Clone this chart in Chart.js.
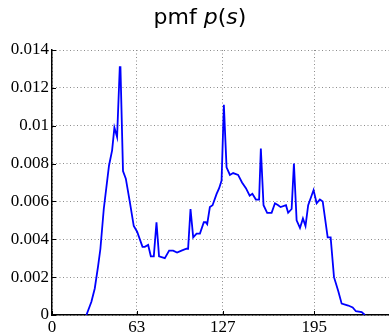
<!DOCTYPE html>
<html>
<head>
<meta charset="utf-8">
<script src="https://cdn.jsdelivr.net/npm/chart.js@4/dist/chart.umd.min.js"></script>
<style>
  body { margin: 0; background: #fff; }
  #wrap { position: relative; width: 389px; height: 335px; }
  #title {
    position: absolute; left: 0; top: 4px; width: 400px; text-align: center;
    font-family: 'DejaVu Sans', sans-serif; font-size: 22px; color: #000;
  }
  #title i { font-style: italic; }
</style>
</head>
<body>
<div id="wrap">
  <div id="title">pmf <i>p</i>(<i>s</i>)</div>
  <canvas id="pmfChart"></canvas>
</div>
<script>
// values (grey level s, probability p(s))
const sValues = [
  25.6, 29.3, 31.8, 34.3, 36, 38.5, 42.4, 44.7, 46.4, 48.4,
  50.4, 50.9, 52.8, 54.9, 57.8, 60.8, 63.3, 67.3, 69, 71.5,
  73.5, 75.7, 77.7, 79.6, 83.9, 87.1, 90.1, 93, 96.3, 100,
  101.2, 103, 105, 107.5, 110, 112.9, 114.4, 115.4, 117.4, 119.4,
  122.4, 124.3, 126.1, 127.8, 129.8, 132.3, 134.7, 138.4, 141.3, 144.2,
  147, 149, 151.6, 154, 155.3, 157.3, 160, 163.3, 165.8, 168.2,
  170, 174, 175.6, 178.2, 179.9, 181.9, 184.4, 186.6, 188.5, 190.5,
  194.5, 196.8, 199.2, 201.3, 205, 207.2, 209.7, 212.9, 215.4, 220.3,
  223.6, 226, 230.3, 232.7
];
const pValues = [
  0, 0.0007, 0.0014, 0.0026, 0.0035, 0.0056, 0.0079, 0.0087, 0.0099, 0.0094,
  0.0131, 0.0131, 0.0076, 0.0072, 0.0060, 0.0047, 0.0044, 0.0036, 0.0036, 0.0037,
  0.0031, 0.0031, 0.0049, 0.0031, 0.0030, 0.0034, 0.0034, 0.0033, 0.0034, 0.0035,
  0.0035, 0.0056, 0.0041, 0.0043, 0.0043, 0.0049, 0.0049, 0.0048, 0.0057, 0.0058,
  0.0064, 0.0067, 0.0071, 0.0111, 0.0078, 0.0074, 0.0075, 0.0074, 0.0070, 0.0067,
  0.0063, 0.0064, 0.0061, 0.0061, 0.0088, 0.0058, 0.0054, 0.0054, 0.0059, 0.0058,
  0.0057, 0.0058, 0.0054, 0.0056, 0.0080, 0.0050, 0.0046, 0.0051, 0.0047, 0.0058,
  0.0066, 0.0059, 0.0061, 0.0060, 0.0041, 0.0041, 0.0020, 0.00125, 0.0006, 0.0005,
  0.0004, 0.0002, 0.00015, 0
];
const xTicks = [0, 63, 127, 195];
const yTicks = [0, 0.002, 0.004, 0.006, 0.008, 0.01, 0.012, 0.014];

const tickFont = { family: 'Liberation Serif', size: 17 };

// short black tick marks pointing into the plot, like the original axes
const innerTicks = {
  id: 'innerTicks',
  afterDatasetsDraw(chart) {
    const { ctx, chartArea, scales } = chart;
    ctx.save();
    ctx.strokeStyle = '#000';
    ctx.lineWidth = 1;
    ctx.beginPath();
    xTicks.forEach(v => {
      const x = Math.round(scales.x.getPixelForValue(v)) + 0.5;
      ctx.moveTo(x, chartArea.bottom);
      ctx.lineTo(x, chartArea.bottom - 4);
    });
    yTicks.forEach(v => {
      const y = Math.round(scales.y.getPixelForValue(v)) + 0.5;
      ctx.moveTo(chartArea.left, y);
      ctx.lineTo(chartArea.left + 4, y);
    });
    ctx.stroke();
    ctx.restore();
  }
};

const ctx = document.getElementById('pmfChart').getContext('2d');

const chart = new Chart(ctx, {
  type: 'line',
  data: {
    datasets: [
      {
        data: sValues.map((s, i) => ({ x: s, y: pValues[i] })),
        borderColor: '#0000ff',
        borderWidth: 1.8,
        pointRadius: 0,
        tension: 0,
        fill: false,
      },
    ],
  },
  options: {
    responsive: true,
    maintainAspectRatio: false,
    animation: false,
    layout: { padding: { top: 50, right: 0, left: 0, bottom: 0 } },
    plugins: { legend: { display: false }, tooltip: { enabled: false } },
    scales: {
      x: {
        type: 'linear',
        min: 0,
        max: 250.6,
        afterBuildTicks: (scale) => {
          scale.ticks = xTicks.map(v => ({ value: v }));
        },
        afterFit: (scale) => { scale.height = 20; },
        ticks: { font: tickFont, color: '#000', padding: 2, maxRotation: 0 },
        grid: { color: '#8c8c8c', lineWidth: 1, drawTicks: false },
        border: { color: '#000', width: 1.5, dash: [1, 2.5] },
      },
      y: {
        min: 0,
        max: 0.014,
        afterBuildTicks: (scale) => {
          scale.ticks = yTicks.map(v => ({ value: v }));
        },
        afterFit: (scale) => { scale.width = 52; },
        ticks: {
          font: tickFont,
          color: '#000',
          padding: 3,
          callback: (v) => String(+v.toFixed(3)),
        },
        grid: { color: '#8c8c8c', lineWidth: 1, drawTicks: false },
        border: { color: '#000', width: 1.5, dash: [1, 2.5] },
      },
    },
  },
  plugins: [innerTicks],
});
</script>
</body>
</html>
